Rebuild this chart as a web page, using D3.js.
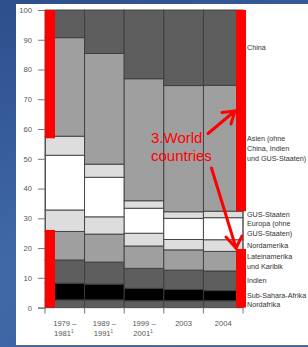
<!DOCTYPE html>
<html>
<head>
<meta charset="utf-8">
<script src="https://cdn.jsdelivr.net/npm/d3@7"></script>
<style>
    html, body { margin: 0; padding: 0; }
    body { width: 308px; height: 347px; overflow: hidden;
           background: linear-gradient(160deg, #2d4f8c 0%, #4169a8 60%, #3a62a2 100%); }
    svg { display: block; font-family: "Liberation Sans", Arial, sans-serif; }
</style>
</head>
<body>
<svg id="chart" width="308" height="347"></svg>
<script>
// categories (periods) and tick labels
const periods = [["1979 –", "1981", "1"], ["1989 –", "1991", "1"], ["1999 –", "2001", "1"], ["2003"], ["2004"]];
const yTicks = [0, 10, 20, 30, 40, 50, 60, 70, 80, 90, 100];

// regions, bottom to top, with label lines
const regions = ["Nordafrika", "Sub-Sahara-Afrika", "Indien", "Lateinamerika und Karibik",
    "Nordamerika", "Europa (ohne GUS-Staaten)", "GUS-Staaten", "Asien (ohne China, Indien und GUS-Staaten)", "China"];
const regionLines = [["Nordafrika"], ["Sub-Sahara-Afrika"], ["Indien"], ["Lateinamerika", "und Karibik"],
    ["Nordamerika"], ["Europa (ohne", "GUS-Staaten)"], ["GUS-Staaten"], ["Asien (ohne", "China, Indien", "und GUS-Staaten)"], ["China"]];
const regionFill = ["#5e5e5e", "#000000", "#5e5e5e", "#9f9f9f", "#dddddd", "#ffffff", "#dddddd", "#9f9f9f", "#5e5e5e"];

// share in percent per period (same order as regions)
const share1979 = [2.6, 5.6, 7.8, 9.6, 7.2, 18.4, 6.4, 33.1, 9.3];
const share1989 = [2.6, 5.3, 7.4, 9.4, 5.8, 13.3, 4.4, 37.2, 14.6];
const share1999 = [2.3, 4.2, 6.7, 7.5, 4.3, 8.4, 2.5, 41.0, 23.1];
const share2003 = [2.3, 3.8, 6.5, 6.8, 3.5, 7.1, 2.2, 42.4, 25.4];
const share2004 = [2.3, 3.4, 6.6, 6.6, 3.9, 7.4, 2.2, 42.3, 25.3];
const shares = [share1979, share1989, share1999, share2003, share2004];

// red highlight ranges (percent) on the first and last bar
const markFirst = [[0, 26.1], [56.9, 100]];
const markLast = [[0, 19.7], [32.4, 100]];

const svg = d3.select("#chart");

// white panel
svg.append("rect").attr("x", 16).attr("y", 4).attr("width", 292).attr("height", 341).attr("fill", "#fff");
svg.append("line").attr("x1", 16).attr("x2", 308).attr("y1", 345.5).attr("y2", 345.5)
    .attr("stroke", "#6a6a6a").attr("stroke-width", 1);

const x = d3.scaleBand().domain(d3.range(periods.length)).range([45, 243]).padding(0);
const y = d3.scaleLinear().domain([0, 100]).range([307.6, 10]);

// stacked data
const table = shares.map(function(s, i) {
    let o = {period: i};
    regions.forEach(function(r, j) { o[r] = s[j]; });
    return o;
});
const stack = d3.stack().keys(regions)(table);

const layers = svg.append("g").selectAll("g")
    .data(stack)
    .enter().append("g")
    .attr("fill", function(d, i) { return regionFill[i]; });

layers.selectAll("rect")
    .data(function(d) { return d; })
    .enter().append("rect")
    .attr("x", function(d) { return x(d.data.period); })
    .attr("width", x.bandwidth())
    .attr("y", function(d) { return y(d[1]); })
    .attr("height", function(d) { return y(d[0]) - y(d[1]); })
    .attr("stroke", "#3c3c3c")
    .attr("stroke-width", 0.9);

// y axis
const yAxis = svg.append("g").attr("transform", "translate(45,0)")
    .call(d3.axisLeft(y).tickValues(yTicks).tickSize(7).tickPadding(6));
yAxis.select(".domain").attr("stroke", "#555");
yAxis.selectAll(".tick line").attr("stroke", "#777");
yAxis.selectAll(".tick text").attr("fill", "#555").attr("font-size", "7.6px")
    .attr("font-family", "Liberation Sans, Arial, sans-serif");

// x axis: boundary ticks
const bounds = d3.range(periods.length + 1).map(function(i) { return 45 + i * x.bandwidth(); });
svg.append("line").attr("x1", 45).attr("x2", 243).attr("y1", y(0)).attr("y2", y(0))
    .attr("stroke", "#555");
svg.selectAll(".xt").data(bounds).enter().append("line")
    .attr("x1", function(d) { return d; }).attr("x2", function(d) { return d; })
    .attr("y1", y(0)).attr("y2", y(0) + 6)
    .attr("stroke", "#777").attr("stroke-width", 1);
svg.append("line").attr("x1", 243).attr("x2", 243).attr("y1", y(100)).attr("y2", y(0))
    .attr("stroke", "#555");

const xl = svg.selectAll(".xl").data(periods).enter().append("text")
    .attr("text-anchor", "middle")
    .attr("fill", "#555")
    .attr("font-size", "7.6px");
xl.append("tspan")
    .attr("x", function(d, i) { return x(i) + x.bandwidth() / 2; })
    .attr("y", 326)
    .text(function(d) { return d[0]; });
xl.filter(function(d) { return d.length > 1; }).append("tspan")
    .attr("x", function(d, i) { return x(periods.indexOf(d)) + x.bandwidth() / 2 - 1; })
    .attr("y", 336)
    .text(function(d) { return d[1]; })
    .append("tspan").attr("font-size", "4.5px").attr("dy", -3).text(function(d) { return d[2]; });

// legend labels at the middle of the last bar's segments
const last = stack.map(function(layer) { return layer[layer.length - 1]; });
svg.selectAll(".lg").data(regionLines).enter().append("text")
    .attr("fill", "#333").attr("font-size", "7.2px")
    .each(function(lines, i) {
        const mid = y((last[i][0] + last[i][1]) / 2);
        const t = d3.select(this);
        lines.forEach(function(line, k) {
            t.append("tspan").attr("x", 247)
                .attr("y", mid + 2.5 + (k - (lines.length - 1) / 2) * 10)
                .text(line);
        });
    });

// red highlight bars
markFirst.forEach(function(r) {
    svg.append("rect").attr("x", x(0)).attr("width", 10)
        .attr("y", y(r[1])).attr("height", y(r[0]) - y(r[1])).attr("fill", "#ff0000");
});
markLast.forEach(function(r) {
    svg.append("rect").attr("x", x(periods.length - 1) + x.bandwidth() - 7).attr("width", 10)
        .attr("y", y(r[1])).attr("height", y(r[0]) - y(r[1])).attr("fill", "#ff0000");
});

// annotation
const note = svg.append("text").attr("fill", "#ff0000").attr("font-size", "15px");
note.append("tspan").attr("x", 151).attr("y", 142.5).text("3.World");
note.append("tspan").attr("x", 151).attr("y", 160.5).text("countries");

function arrow(x1, y1, x2, y2, b1, b2)
{
    svg.append("line").attr("x1", x1).attr("y1", y1).attr("x2", x2).attr("y2", y2)
        .attr("stroke", "#ff0000").attr("stroke-width", 3).attr("stroke-linecap", "round");
    svg.append("polyline")
        .attr("points", [b1, [x2, y2], b2].map(function(p) { return p.join(","); }).join(" "))
        .attr("fill", "none").attr("stroke", "#ff0000").attr("stroke-width", 3)
        .attr("stroke-linecap", "round").attr("stroke-linejoin", "miter");
}
arrow(208, 133.5, 235, 111, [222, 112.5], [231, 124]);
arrow(211.5, 168, 236, 248, [226, 237], [242, 236]);
</script>
</body>
</html>
